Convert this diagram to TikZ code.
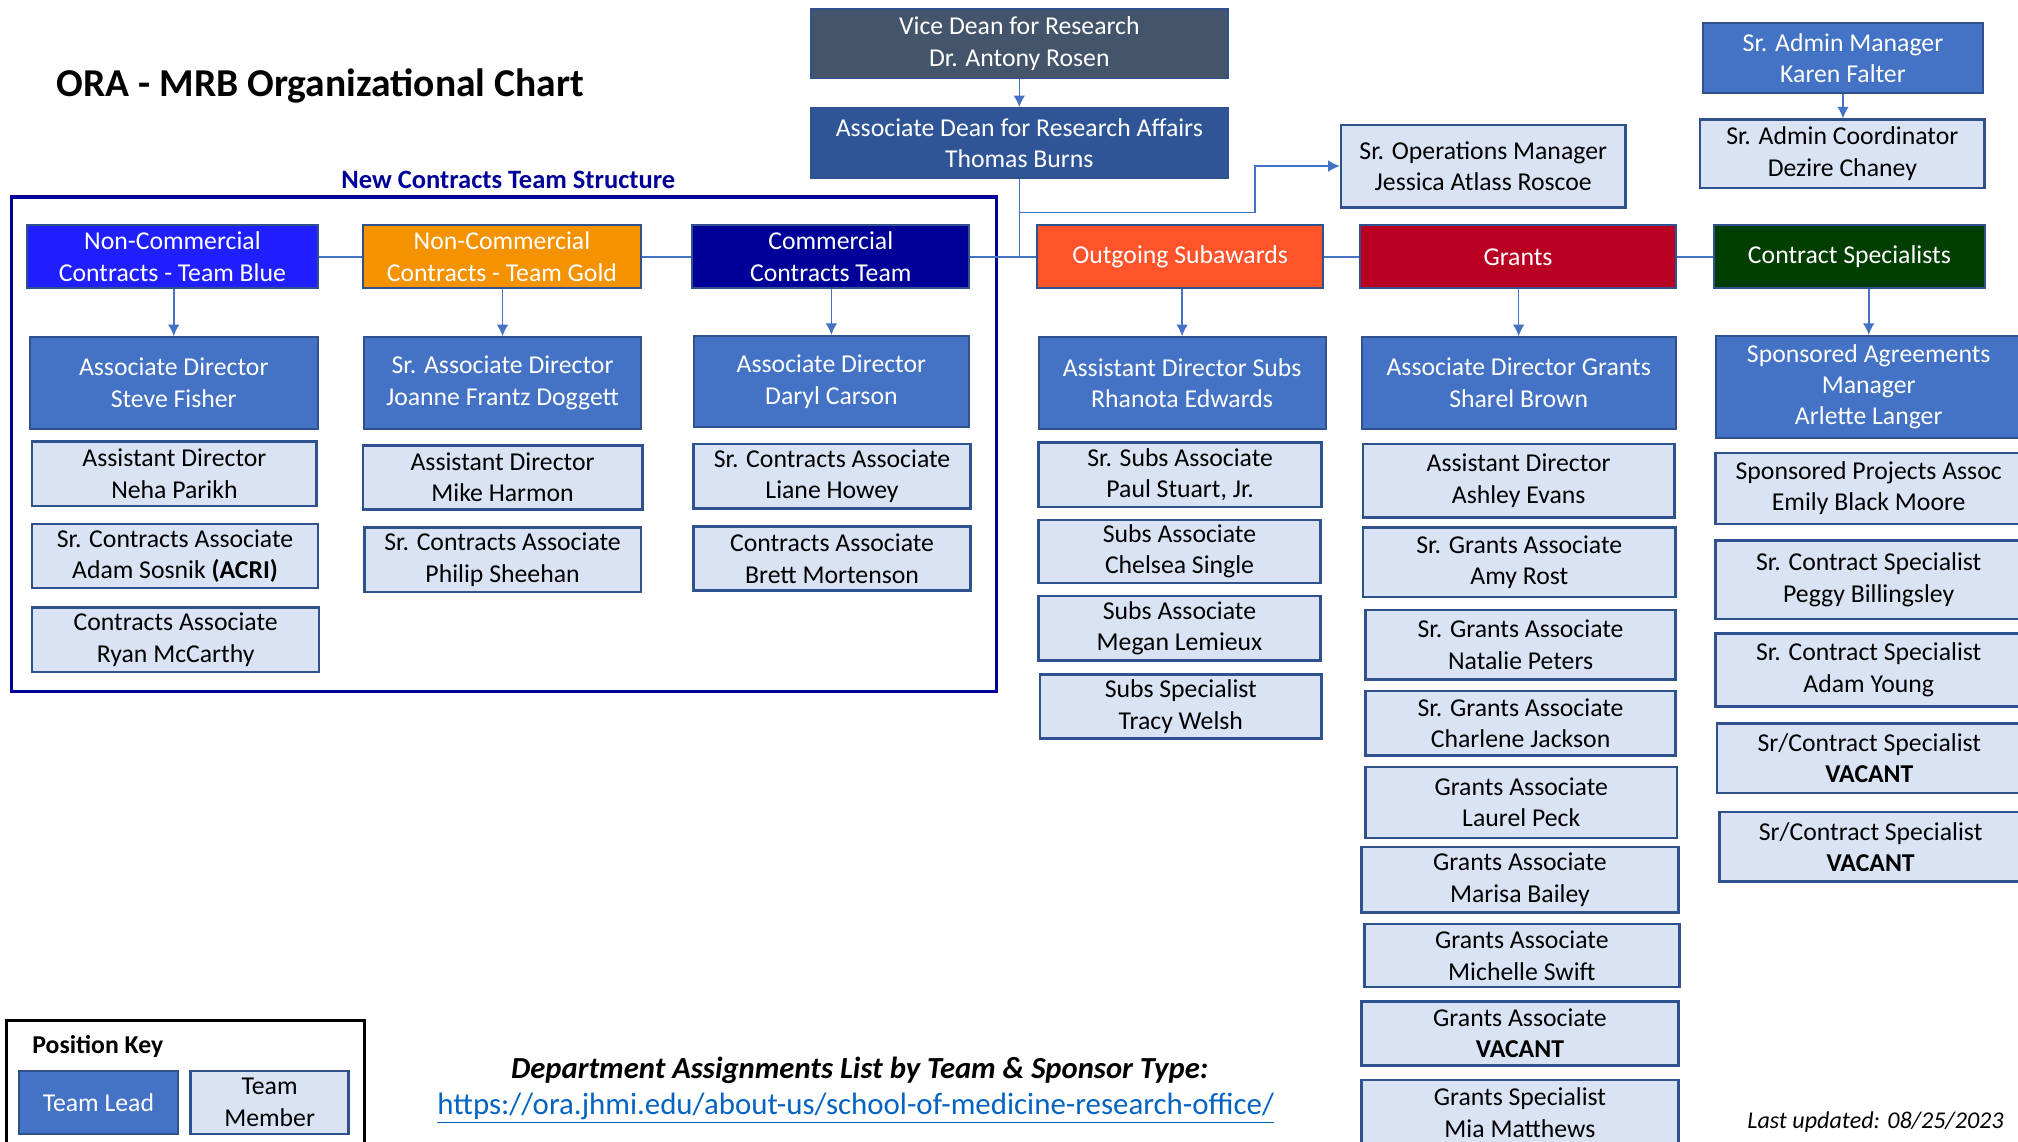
\documentclass[tikz,border=0pt]{standalone}
\usepackage{fontspec}
\setmainfont{Carlito}
\usetikzlibrary{arrows.meta,calc}
\definecolor{connc}{HTML}{4472C4}
\definecolor{leadc}{HTML}{4472C4}
\definecolor{membc}{HTML}{DAE3F3}
\definecolor{bordc}{HTML}{2F528F}
\definecolor{vdc}{HTML}{44546A}
\definecolor{adc}{HTML}{2F5597}
\definecolor{bluet}{HTML}{1F1FFF}
\definecolor{goldt}{HTML}{F59200}
\definecolor{navyt}{HTML}{000099}
\definecolor{subst}{HTML}{FF5329}
\definecolor{grantt}{HTML}{BA0022}
\definecolor{cst}{HTML}{003F00}
\definecolor{linkc}{HTML}{0563C1}
\tikzset{
 base/.style={draw=bordc, line width=1.5pt, inner sep=0pt, align=center, font=\fontsize{20}{24.4}\selectfont},
 member/.style={base, fill=membc, line width=2pt, text=black},
 leadbox/.style={base, fill=leadc, text=white},
 hdr/.style={base, text=white, fill=#1},
 connline/.style={draw=connc, line width=1.2pt},
 arr/.style={connline, -{Latex[length=9pt,width=9pt]}},
 frame/.style={draw=#1, line width=2.5pt, inner sep=0pt},
}
\newcommand\bx[7]{%
 \pgfmathsetmacro\bw{#5-#3}\pgfmathsetmacro\bh{#6-#4}%
 \pgfmathsetmacro\bcx{(#3+#5)/2}\pgfmathsetmacro\bcy{(#4+#6)/2+1}%
 \node[#1, minimum width=\bw pt, minimum height=\bh pt] (#2) at (\bcx,\bcy) {#7};}
\begin{document}
\begin{tikzpicture}[x=1pt,y=-1pt]
\useasboundingbox[fill=white] (0,0) rectangle (1568,887);
% titles
\node[anchor=west, inner sep=0pt, font=\fontsize{30.7}{36}\selectfont\bfseries] (title) at (44,67) {ORA - MRB Organizational Chart};
\node[inner sep=0pt, text=navyt, font=\fontsize{20.6}{24}\selectfont\bfseries] (nct) at (395,140) {New Contracts Team Structure};
\bx{frame=navyt}{ncframe}{9}{152}{774}{536}{}
% top
\bx{base, fill=vdc, text=white}{vd}{630}{6}{954}{60}{Vice Dean for Research\\Dr. Antony Rosen}
\bx{base, fill=adc, text=white}{ad}{630}{83}{954}{137}{Associate Dean for Research Affairs\\Thomas Burns}
\bx{member}{ops}{1042}{96}{1263}{160}{Sr. Operations Manager\\Jessica Atlass Roscoe}
\bx{leadbox}{sam}{1323}{17}{1541}{71}{Sr. Admin Manager\\Karen Falter}
\bx{member}{sac}{1321}{92}{1542}{145}{Sr. Admin Coordinator\\Dezire Chaney}
% headers
\bx{hdr=bluet}{hblue}{21}{174}{247}{223}{Non-Commercial\\Contracts - Team Blue}
\bx{hdr=goldt}{hgold}{282}{174}{498}{223}{Non-Commercial\\Contracts - Team Gold}
\bx{hdr=navyt}{hcomm}{538}{174}{753}{223}{Commercial\\Contracts Team}
\bx{hdr=subst}{hsubs}{806}{174}{1028}{223}{Outgoing Subawards}
\bx{hdr=grantt}{hgrant}{1057}{174}{1302}{223}{Grants}
\bx{hdr=cst}{hcs}{1332}{174}{1542}{223}{Contract Specialists}
% leads
\bx{leadbox}{lblue}{23}{261}{247}{332}{Associate Director\\Steve Fisher}
\bx{leadbox}{lgold}{283}{261}{498}{332}{Sr. Associate Director\\Joanne Frantz Doggett}
\bx{leadbox}{lcomm}{539}{260}{753}{331}{Associate Director\\Daryl Carson}
\bx{leadbox}{lsubs}{807}{261}{1030}{332}{Assistant Director Subs\\Rhanota Edwards}
\bx{leadbox}{lgrant}{1058}{261}{1302}{332}{Associate Director Grants\\Sharel Brown}
\bx{leadbox}{lcs}{1333}{260}{1571}{339}{Sponsored Agreements\\Manager\\Arlette Langer}
% members blue
\bx{member}{b1}{25}{342}{246}{392}{Assistant Director\\Neha Parikh}
\bx{member}{b2}{25}{406}{247}{456}{Sr. Contracts Associate\\Adam Sosnik \textbf{(ACRI)}}
\bx{member}{b3}{25}{471}{248}{521}{Contracts Associate\\Ryan McCarthy}
% gold
\bx{member}{g1}{282}{345}{499}{395}{Assistant Director\\Mike Harmon}
\bx{member}{g2}{283}{409}{498}{459}{Sr. Contracts Associate\\Philip Sheehan}
% commercial
\bx{member}{c1}{539}{344}{754}{394}{Sr. Contracts Associate\\Liane Howey}
\bx{member}{c2}{539}{408}{754}{458}{Contracts Associate\\Brett Mortenson}
% subs
\bx{member}{s1}{807}{343}{1027}{393}{Sr. Subs Associate\\Paul Stuart, Jr.}
\bx{member}{s2}{807}{403}{1026}{452}{Subs Associate\\Chelsea Single}
\bx{member}{s3}{807}{462}{1026}{512}{Subs Associate\\Megan Lemieux}
\bx{member}{s4}{808}{523}{1027}{573}{Subs Specialist\\Tracy Welsh}
% grants
\bx{member}{r1}{1059}{344}{1301}{401}{Assistant Director\\Ashley Evans}
\bx{member}{r2}{1059}{409}{1302}{463}{Sr. Grants Associate\\Amy Rost}
\bx{member}{r3}{1061}{473}{1302}{527}{Sr. Grants Associate\\Natalie Peters}
\bx{member}{r4}{1061}{536}{1302}{586}{Sr. Grants Associate\\Charlene Jackson}
\bx{member}{r5}{1061}{595}{1303}{650}{Grants Associate\\Laurel Peck}
\bx{member}{r6}{1058}{657}{1304}{708}{Grants Associate\\Marisa Bailey}
\bx{member}{r7}{1060}{717}{1305}{766}{Grants Associate\\Michelle Swift}
\bx{member}{r8}{1058}{777}{1304}{827}{Grants Associate\\\textbf{VACANT}}
\bx{member}{r9}{1058}{838}{1304}{889}{Grants Specialist\\Mia Matthews}
% contract specialists
\bx{member}{p1}{1333}{351}{1571}{406}{Sponsored Projects Assoc\\Emily Black Moore}
\bx{member}{p2}{1333}{419}{1571}{480}{Sr. Contract Specialist\\Peggy Billingsley}
\bx{member}{p3}{1333}{491}{1571}{548}{Sr. Contract Specialist\\Adam Young}
\bx{member}{p4}{1334}{561}{1571}{615}{Sr/Contract Specialist\\\textbf{VACANT}}
\bx{member}{p5}{1336}{630}{1571}{684}{Sr/Contract Specialist\\\textbf{VACANT}}
% connectors
\draw[arr] (vd.south) -- (ad.south |- ad.north);
\coordinate (j0) at (ad.south |- hcomm.east);
\coordinate (j1) at (792,165);
\coordinate (j2) at (975,165);
\draw[connline] (ad.south) -- (j0);
\draw[arr] (j1) -- (j2) |- (ops.west);
\draw[arr] (sam.south) -- (sam.south |- sac.north);
\draw[connline] (hblue.east) -- (hgold.west);
\draw[connline] (hgold.east) -- (hcomm.west);
\draw[connline] (hcomm.east) -- (hsubs.west);
\draw[connline] (hsubs.east) -- (hgrant.west);
\draw[connline] (hgrant.east) -- (hcs.west);
\draw[arr] (lblue.north |- hblue.south) -- (lblue.north);
\draw[arr] (lgold.north |- hgold.south) -- (lgold.north);
\draw[arr] (lcomm.north |- hcomm.south) -- (lcomm.north);
\draw[arr] (lsubs.north |- hsubs.south) -- (lsubs.north);
\draw[arr] (lgrant.north |- hgrant.south) -- (lgrant.north);
\draw[arr] (lcs.north |- hcs.south) -- (lcs.north);
% position key
\bx{frame=black, line width=2pt}{keyframe}{5}{792}{283}{920}{}
\node[anchor=west, inner sep=0pt, font=\fontsize{20}{24}\selectfont\bfseries] (pk) at (25,813) {Position Key};
\bx{leadbox}{klead}{15}{831}{138}{880}{Team Lead}
\bx{member}{kmem}{148}{831}{271}{880}{Team\\Member}
% bottom texts
\node[inner sep=0pt, font=\fontsize{23.8}{28}\selectfont\bfseries\itshape] (dept) at (668,832) {Department Assignments List by Team \& Sponsor Type:};
\node[inner sep=0pt, text=linkc, font=\fontsize{24}{28}\selectfont] (link) at (665,861) {\underline{https://ora.jhmi.edu/about-us/school-of-medicine-research-office/}};
\node[anchor=east, inner sep=0pt, font=\fontsize{18.7}{22}\selectfont\itshape] (upd) at (1557,872) {Last updated: 08/25/2023};
\end{tikzpicture}
\end{document}
